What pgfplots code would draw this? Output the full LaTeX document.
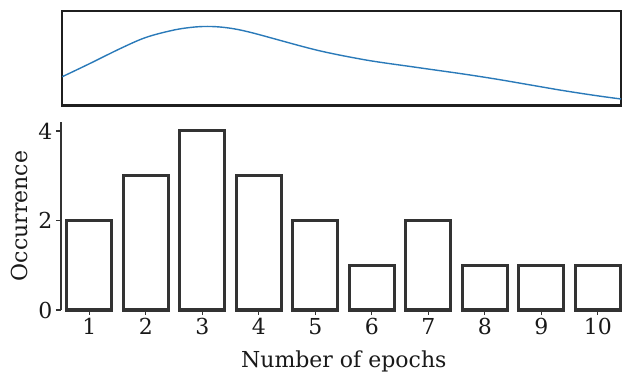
\documentclass[border=0pt]{standalone}
\usepackage{pgfplots}
\pgfplotsset{compat=1.18}
\usepackage{fontspec}
\setmainfont{DejaVu Serif}
\definecolor{edge}{HTML}{333333}
\definecolor{kde}{HTML}{2A7AB9}
\begin{document}
\begin{tikzpicture}
\useasboundingbox (0,0) rectangle (622bp,375bp);
% top panel: density curve
\begin{axis}[
  at={(62bp,269.5bp)}, anchor=south west,
  width=559bp, height=94.5bp, scale only axis,
  xmin=0.518, xmax=10.41, ymin=0, ymax=94.5,
  xtick=\empty, ytick=\empty,
  axis line style={draw=black!88, line width=2.3bp},
  clip=false,
]
\addplot[kde, line width=1.4bp, smooth, tension=0.6] coordinates {
(0.523,28.8) (0.983,41.2) (1.574,57.6) (2.000,68.0) (2.429,74.6) (2.725,77.6)
(3.019,79.0) (3.314,78.5) (3.610,76.2) (3.904,72.4) (4.199,67.9) (4.495,63.3)
(4.788,58.8) (5.084,54.6) (5.380,51.0) (5.673,47.8) (5.969,44.8) (6.300,42.0)
(6.619,39.5) (7.031,36.2) (7.620,31.5) (8.212,26.3) (8.80,20.6) (9.39,14.9)
(9.98,9.8) (10.41,6.5)};
\end{axis}
% bottom panel: bars
\begin{axis}[
  at={(61bp,65bp)}, anchor=south west,
  width=560bp, height=188bp, scale only axis,
  xmin=0.5, xmax=10.41, ymin=0, ymax=4.2,
  axis lines*=left,
  axis line style={-, draw=edge, line width=1.1bp},
  x axis line style={draw=none},
  xtick={1,...,10}, ytick={0,2,4},
  tick align=outside, major tick length=5bp,
  tick style={draw=edge, line width=1.1bp},
  /pgf/number format/assume math mode=true,
  ticklabel style={font=\fontsize{22bp}{26bp}\selectfont, text=black!90},
  label style={font=\fontsize{22bp}{26bp}\selectfont, text=black!90},
  xlabel={Number of epochs},
  ylabel={Occurrence},
  xlabel style={at={(axis description cs:0.505,-0.3032)}, anchor=base},
  ylabel style={at={(axis description cs:-0.0607,0.5)}, anchor=base},
  ybar, bar width=0.8, bar shift=0pt,
  clip=false,
]
\addplot[draw=edge, fill=white, line width=3bp] coordinates {
(1,2) (2,3) (3,4) (4,3) (5,2) (6,1) (7,2) (8,1) (9,1) (10,1)};
\end{axis}
\end{tikzpicture}
\end{document}
